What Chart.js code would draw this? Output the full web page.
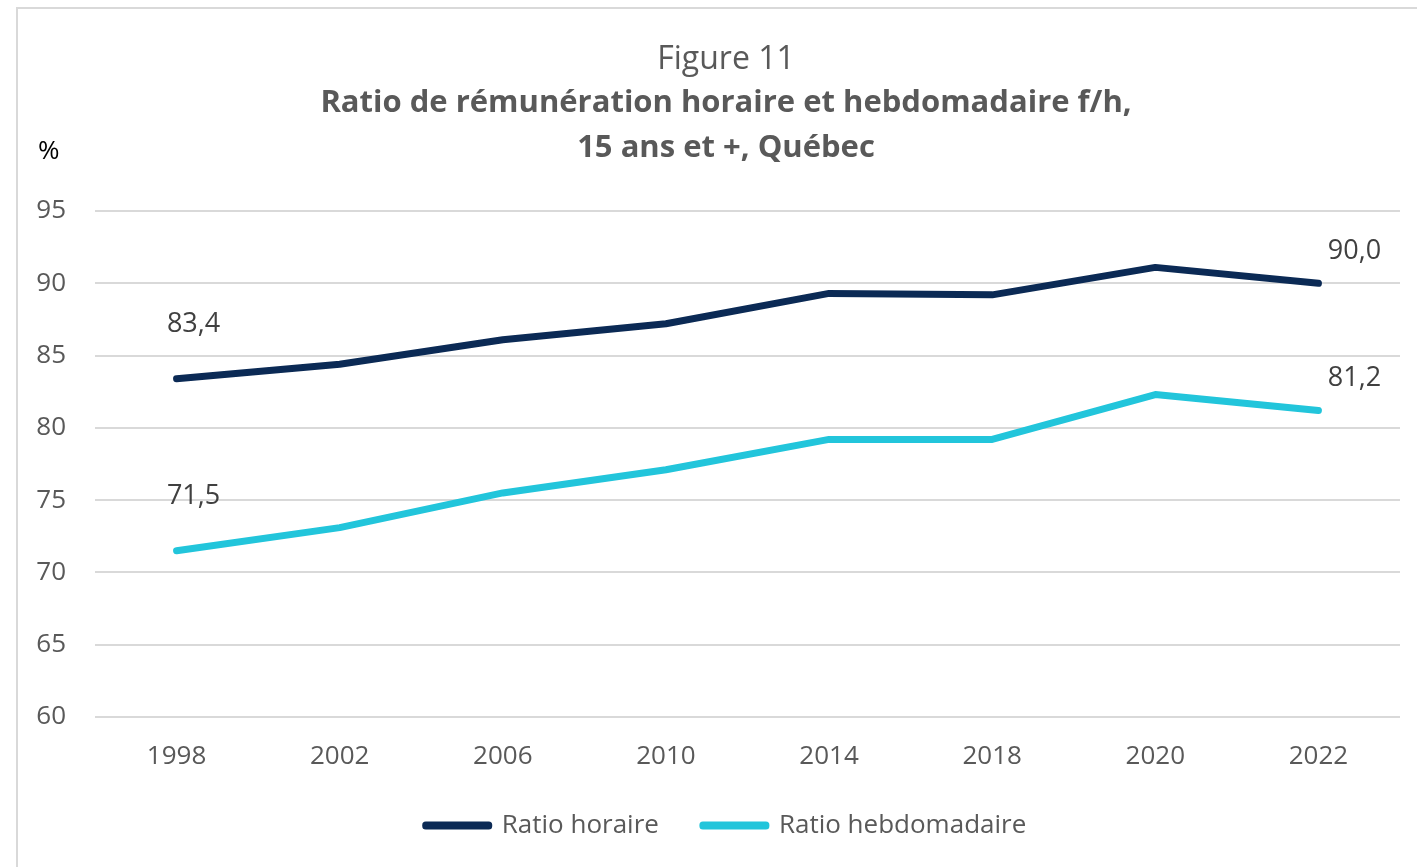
<!DOCTYPE html>
<html lang="fr">
<head>
<meta charset="utf-8">
<title>Figure 11</title>
<script src="https://cdn.jsdelivr.net/npm/chart.js@4.4.1/dist/chart.umd.min.js"></script>
<style>
  html, body { margin: 0; padding: 0; background: #fff; overflow: hidden; }
  #frame {
    position: absolute; left: 16px; top: 7px; width: 1500px; height: 1000px;
    border-left: 2px solid #d9d9d9; border-top: 2px solid #d9d9d9;
  }
  #wrap { position: absolute; left: 0; top: 0; width: 1417px; height: 867px; }
</style>
</head>
<body>
<div id="frame"></div>
<div id="wrap"><canvas id="ratioChart"></canvas></div>
<script>
const years = ['1998', '2002', '2006', '2010', '2014', '2018', '2020', '2022'];
const ratioHoraire = [83.4, 84.4, 86.1, 87.2, 89.3, 89.2, 91.1, 90.0];
const ratioHebdo = [71.5, 73.1, 75.5, 77.1, 79.2, 79.2, 82.3, 81.2];
const yMin = 60, yMax = 95, yStep = 5;

const FONT = "'Open Sans', 'Noto Sans', sans-serif";
const GREY = '#595959';

// labels only on first and last point of each line, like the source
const endLabels = {
  id: 'endLabels',
  afterLayout(chart) {
    // let the y tick labels spill left of the padding without being clipped
    chart.scales.y.left = 0;
  },
  afterDatasetsDraw(chart) {
    const ctx = chart.ctx;
    ctx.save();
    ctx.font = '27px ' + FONT;
    ctx.fillStyle = '#404040';
    ctx.textAlign = 'center';
    ctx.textBaseline = 'middle';
    chart.data.datasets.forEach((ds, i) => {
      const pts = chart.getDatasetMeta(i).data;
      const last = pts.length - 1;
      const fmt = v => v.toFixed(1).replace('.', ',');
      ctx.fillText(fmt(ds.data[0]), pts[0].x + 17, pts[0].y - 54);
      ctx.fillText(fmt(ds.data[last]), pts[last].x + 36, pts[last].y - 32);
    });
    // unit above the y axis
    ctx.font = '26px ' + FONT;
    ctx.fillStyle = '#000';
    ctx.textAlign = 'left';
    ctx.fillText('%', chart.chartArea.left - 57, chart.chartArea.top - 59);
    ctx.restore();
  }
};

new Chart(document.getElementById('ratioChart'), {
  type: 'line',
  data: {
    labels: years,
    datasets: [
      {
        label: 'Ratio horaire',
        data: ratioHoraire,
        borderColor: '#0b2a55',
        backgroundColor: '#0b2a55',
        borderWidth: 7,
        borderCapStyle: 'round',
        borderJoinStyle: 'round',
        pointRadius: 0,
        tension: 0
      },
      {
        label: 'Ratio hebdomadaire',
        data: ratioHebdo,
        borderColor: '#22c5db',
        backgroundColor: '#22c5db',
        borderWidth: 7,
        borderCapStyle: 'round',
        borderJoinStyle: 'round',
        pointRadius: 0,
        tension: 0
      }
    ]
  },
  options: {
    responsive: true,
    maintainAspectRatio: false,
    animation: false,
    layout: { padding: { top: 41, left: 52, right: 17, bottom: 18.5 } },
    plugins: {
      title: {
        display: true,
        text: 'Figure 11',
        color: GREY,
        font: { family: FONT, size: 32, weight: 'normal', lineHeight: 1.2 },
        padding: { top: 0, bottom: 0 }
      },
      subtitle: {
        display: true,
        text: ['Ratio de rémunération horaire et hebdomadaire f/h,', '15 ans et +, Québec'],
        color: GREY,
        font: { family: FONT, size: 31, weight: 'bold', lineHeight: 1.45 },
        padding: { top: 1, bottom: 40.7 }
      },
      legend: {
        position: 'bottom',
        labels: {
          color: GREY,
          font: { family: FONT, size: 26 },
          boxWidth: 63,
          boxHeight: 1,
          padding: 44
        }
      },
      tooltip: { enabled: false }
    },
    scales: {
      x: {
        offset: true,
        grid: { display: false, drawTicks: false },
        border: { display: false },
        ticks: { color: GREY, font: { family: FONT, size: 26 }, padding: 24, maxRotation: 0 },
        afterFit(scale) { scale.height = 51.5; }
      },
      y: {
        min: yMin,
        max: yMax,
        grid: { color: '#d9d9d9', lineWidth: 2, drawTicks: false },
        border: { display: false },
        ticks: { stepSize: yStep, color: GREY, font: { family: FONT, size: 26 }, padding: 29 },
        afterFit(scale) { scale.width = 43; }
      }
    }
  },
  plugins: [endLabels]
});
</script>
</body>
</html>
